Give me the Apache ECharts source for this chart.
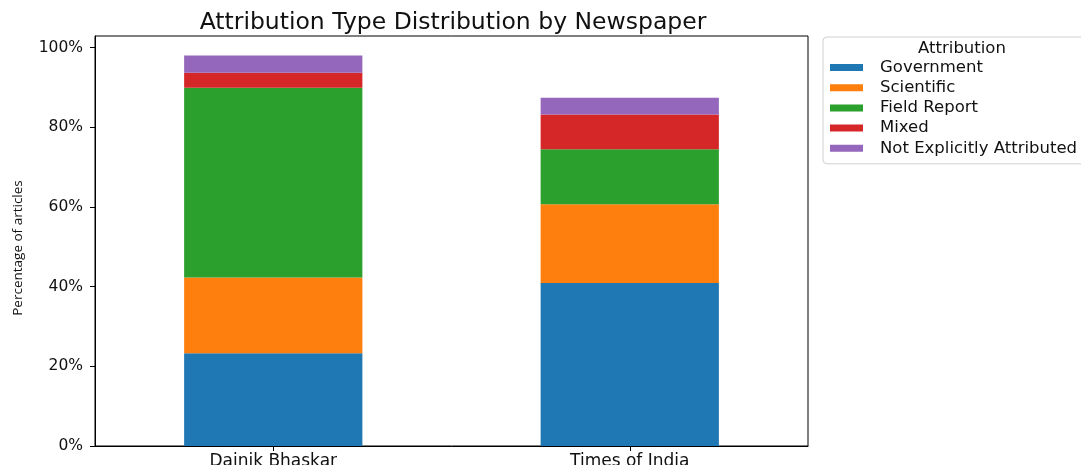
<!DOCTYPE html>
<html>
<head>
<meta charset="utf-8">
<script src="https://cdn.jsdelivr.net/npm/echarts@6/dist/echarts.min.js"></script>
<style>
html,body{margin:0;padding:0;background:#fff;}
#chart{width:1081px;height:465px;}
</style>
</head>
<body>
<div id="chart"></div>
<script>
const categories = ['Dainik Bhaskar', 'Times of India'];
const seriesNames = ['Government', 'Scientific', 'Field Report', 'Mixed', 'Not Explicitly Attributed'];
const government = [23.3, 40.9];
const scientific = [19.0, 19.8];
const fieldReport = [47.6, 13.8];
const mixed = [3.8, 8.7];
const notExplicit = [4.3, 4.2];
const yTicks = [0, 20, 40, 60, 80, 100];
const colors = ['#1f77b4', '#ff7f0e', '#2ca02c', '#d62728', '#9467bd'];

const values = [government, scientific, fieldReport, mixed, notExplicit];
const font = 'DejaVu Sans';

const chart = echarts.init(document.getElementById('chart'), null, {renderer: 'canvas'});
chart.setOption({
  animation: false,
  backgroundColor: '#fff',
  title: [
    {
      text: 'Attribution Type Distribution by Newspaper',
      left: 448, top: 6, textAlign: 'center',
      textStyle: {fontFamily: font, fontSize: 23.5, fontWeight: 'normal', color: '#111'}
    },
    {
      text: 'Attribution',
      left: 957, top: 35, textAlign: 'center',
      textStyle: {fontFamily: font, fontSize: 16.5, fontWeight: 'normal', color: '#111'}
    }
  ],
  legend: {
    orient: 'vertical',
    left: 823, top: 37,
    padding: [22, 80, 7, 7],
    borderColor: '#d0d0d0', borderWidth: 1, borderRadius: 4,
    itemWidth: 33, itemHeight: 7, itemGap: 3.2,
    icon: 'rect',
    textStyle: {fontFamily: font, fontSize: 16.5, lineHeight: 16, color: '#111', padding: [0, 0, 0, 12]},
    data: seriesNames
  },
  grid: {
    left: 95, top: 36, width: 713, height: 410,
    outerBoundsMode: 'none', containLabel: false,
    show: true, borderColor: '#000', borderWidth: 1, backgroundColor: 'transparent'
  },
  xAxis: {
    type: 'category',
    data: categories,
    axisLine: {lineStyle: {color: '#000', width: 1}},
    axisTick: {show: true, alignWithLabel: true, length: 5, lineStyle: {color: '#000'}},
    axisLabel: {fontFamily: font, fontSize: 17, color: '#111', margin: 7}
  },
  yAxis: {
    type: 'value',
    min: 0, max: 102.9, interval: 20,
    name: 'Percentage of articles',
    nameLocation: 'middle', nameGap: 70, nameRotate: 90,
    nameTextStyle: {fontFamily: 'Open Sans, Noto Sans, sans-serif', fontSize: 13.5, color: '#111',
      padding: [0, 14, 0, 0]},
    splitLine: {show: false},
    axisLine: {show: true, lineStyle: {color: '#000', width: 1}},
    axisTick: {show: true, length: 5, lineStyle: {color: '#000'}, customValues: yTicks},
    axisLabel: {fontFamily: font, fontSize: 15.5, color: '#111', margin: 12,
      customValues: yTicks, formatter: v => v + '%'}
  },
  series: seriesNames.map((name, i) => ({
    name: name,
    type: 'bar',
    stack: 'total',
    barWidth: '50%',
    itemStyle: {color: colors[i]},
    data: values[i]
  }))
});
</script>
</body>
</html>
